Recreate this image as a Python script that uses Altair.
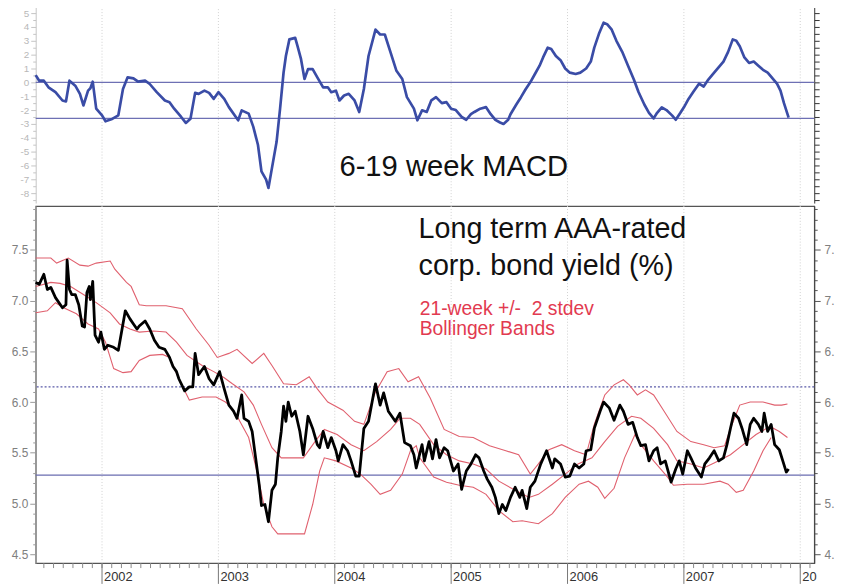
import altair as alt
import pandas as pd

# ---------------- data ----------------
yield_year = [2001.43, 2001.46, 2001.50, 2001.53, 2001.56, 2001.60, 2001.66, 2001.69, 2001.70, 2001.72,
              2001.74, 2001.77, 2001.80, 2001.83, 2001.85, 2001.87, 2001.89, 2001.90, 2001.92, 2001.94,
              2001.97, 2001.99, 2002.02, 2002.05, 2002.10, 2002.14, 2002.20, 2002.24, 2002.27, 2002.30,
              2002.32, 2002.37, 2002.41, 2002.45, 2002.49, 2002.54, 2002.58, 2002.61, 2002.64, 2002.66,
              2002.71, 2002.75, 2002.78, 2002.80, 2002.83, 2002.88, 2002.92, 2002.96, 2003.01, 2003.05,
              2003.09, 2003.13, 2003.16, 2003.20, 2003.22, 2003.26, 2003.29, 2003.32, 2003.35, 2003.37,
              2003.40, 2003.43, 2003.46, 2003.49, 2003.51, 2003.54, 2003.56, 2003.58, 2003.60, 2003.63,
              2003.66, 2003.70, 2003.73, 2003.77, 2003.81, 2003.85, 2003.87, 2003.90, 2003.94, 2003.97,
              2004.01, 2004.03, 2004.07, 2004.11, 2004.14, 2004.18, 2004.21, 2004.25, 2004.29, 2004.35,
              2004.39, 2004.42, 2004.46, 2004.52, 2004.56, 2004.60, 2004.65, 2004.68, 2004.70, 2004.75,
              2004.77, 2004.81, 2004.84, 2004.87, 2004.90, 2004.94, 2004.97, 2005.02, 2005.06, 2005.09,
              2005.13, 2005.17, 2005.21, 2005.24, 2005.28, 2005.31, 2005.35, 2005.38, 2005.41, 2005.44,
              2005.47, 2005.51, 2005.55, 2005.59, 2005.61, 2005.65, 2005.68, 2005.72, 2005.77, 2005.82,
              2005.87, 2005.89, 2005.94, 2005.98, 2006.02, 2006.06, 2006.10, 2006.14, 2006.16, 2006.20,
              2006.23, 2006.28, 2006.31, 2006.36, 2006.40, 2006.45, 2006.48, 2006.52, 2006.56, 2006.60,
              2006.63, 2006.67, 2006.70, 2006.74, 2006.77, 2006.80, 2006.84, 2006.89, 2006.93, 2006.96,
              2006.99, 2007.03, 2007.06, 2007.10, 2007.15, 2007.18, 2007.22, 2007.26, 2007.30, 2007.34,
              2007.37, 2007.40, 2007.43, 2007.47, 2007.50, 2007.54, 2007.57, 2007.60, 2007.64, 2007.67,
              2007.69, 2007.72, 2007.75, 2007.78, 2007.82, 2007.85, 2007.88, 2007.90]
yield_val = [7.18, 7.16, 7.26, 7.11, 7.13, 7.03, 6.93, 6.96, 7.40, 7.11,
             7.06, 7.06, 6.96, 6.75, 6.74, 7.08, 7.14, 7.01, 7.19, 6.66,
             6.59, 6.69, 6.52, 6.56, 6.54, 6.51, 6.90, 6.82, 6.77, 6.72,
             6.75, 6.80, 6.72, 6.61, 6.54, 6.52, 6.44, 6.35, 6.30, 6.23,
             6.11, 6.15, 6.15, 6.48, 6.27, 6.35, 6.23, 6.17, 6.30, 6.13,
             5.97, 5.91, 5.84, 6.07, 5.84, 5.81, 5.71, 5.45, 5.19, 4.98,
             4.99, 4.82, 5.13, 5.19, 5.45, 5.71, 5.96, 5.81, 6.00, 5.86,
             5.91, 5.71, 5.48, 5.86, 5.74, 5.58, 5.55, 5.71, 5.55, 5.65,
             5.52, 5.42, 5.58, 5.52, 5.42, 5.27, 5.27, 5.74, 5.81, 6.18,
             5.97, 6.09, 5.91, 5.81, 5.89, 5.60, 5.57, 5.48, 5.35, 5.58,
             5.42, 5.61, 5.44, 5.63, 5.45, 5.55, 5.52, 5.32, 5.39, 5.14,
             5.32, 5.39, 5.48, 5.45, 5.32, 5.24, 5.16, 5.06, 4.90, 4.99,
             4.93, 5.06, 5.16, 5.06, 5.13, 4.95, 5.16, 5.22, 5.39, 5.52,
             5.35, 5.44, 5.39, 5.26, 5.27, 5.39, 5.35, 5.39, 5.52, 5.53,
             5.74, 5.91, 6.00, 5.94, 5.82, 5.97, 5.91, 5.78, 5.80, 5.65,
             5.57, 5.58, 5.42, 5.52, 5.55, 5.39, 5.42, 5.21, 5.34, 5.42,
             5.29, 5.52, 5.45, 5.35, 5.26, 5.39, 5.45, 5.52, 5.42, 5.45,
             5.58, 5.74, 5.89, 5.84, 5.74, 5.58, 5.78, 5.84, 5.78, 5.71,
             5.89, 5.71, 5.78, 5.58, 5.53, 5.42, 5.31, 5.34]

upper_year = [2001.43, 2001.56, 2001.61, 2001.71, 2001.81, 2001.88, 2001.95, 2002.07, 2002.11, 2002.21,
              2002.25, 2002.32, 2002.38, 2002.55, 2002.69, 2002.81, 2002.92, 2002.99, 2003.09, 2003.16,
              2003.29, 2003.39, 2003.46, 2003.56, 2003.67, 2003.78, 2003.85, 2003.94, 2004.07, 2004.17,
              2004.25, 2004.35, 2004.45, 2004.55, 2004.63, 2004.72, 2004.82, 2004.94, 2005.07, 2005.19,
              2005.33, 2005.47, 2005.58, 2005.68, 2005.75, 2005.84, 2005.95, 2006.06, 2006.16, 2006.23,
              2006.32, 2006.40, 2006.48, 2006.53, 2006.60, 2006.67, 2006.74, 2006.83, 2006.94, 2007.06,
              2007.17, 2007.26, 2007.35, 2007.40, 2007.48, 2007.57, 2007.68, 2007.78, 2007.84, 2007.89]
upper_val = [7.42, 7.42, 7.37, 7.42, 7.35, 7.34, 7.37, 7.39, 7.31, 7.18,
             7.14, 6.96, 6.95, 6.95, 6.92, 6.72, 6.56, 6.44, 6.48, 6.52,
             6.38, 6.48, 6.36, 6.18, 6.17, 6.25, 6.13, 6.00, 5.92, 5.81,
             5.78, 6.10, 6.30, 6.33, 6.20, 6.25, 6.04, 5.73, 5.66, 5.65,
             5.57, 5.52, 5.48, 5.29, 5.39, 5.53, 5.58, 5.52, 5.48, 5.78,
             6.07, 6.17, 6.22, 6.17, 6.07, 6.12, 6.07, 5.91, 5.71, 5.61,
             5.58, 5.55, 5.57, 5.74, 5.97, 6.00, 6.00, 5.97, 5.97, 5.98]

mid_year = [2001.43, 2001.56, 2001.64, 2001.73, 2001.84, 2001.95, 2002.07, 2002.15, 2002.24, 2002.32,
            2002.44, 2002.55, 2002.64, 2002.73, 2002.86, 2002.96, 2003.05, 2003.12, 2003.22, 2003.30,
            2003.37, 2003.46, 2003.54, 2003.73, 2003.83, 2003.91, 2004.02, 2004.14, 2004.25, 2004.36,
            2004.48, 2004.56, 2004.65, 2004.73, 2004.85, 2004.96, 2005.07, 2005.19, 2005.30, 2005.41,
            2005.55, 2005.67, 2005.75, 2005.87, 2005.98, 2006.09, 2006.21, 2006.32, 2006.43, 2006.55,
            2006.63, 2006.74, 2006.86, 2006.94, 2007.06, 2007.17, 2007.26, 2007.40, 2007.51, 2007.62,
            2007.74, 2007.82, 2007.89]
mid_val = [7.14, 7.18, 7.17, 7.14, 7.06, 6.98, 6.88, 6.77, 6.72, 6.69,
           6.70, 6.69, 6.59, 6.46, 6.36, 6.30, 6.24, 6.18, 6.10, 5.97,
           5.78, 5.55, 5.45, 5.45, 5.61, 5.73, 5.68, 5.58, 5.52, 5.61,
           5.73, 5.84, 5.84, 5.78, 5.58, 5.48, 5.42, 5.39, 5.34, 5.22,
           5.13, 5.06, 5.09, 5.19, 5.29, 5.39, 5.45, 5.61, 5.76, 5.86,
           5.84, 5.74, 5.58, 5.42, 5.39, 5.35, 5.40, 5.48, 5.58, 5.68,
           5.76, 5.71, 5.65]

low_year = [2001.43, 2001.53, 2001.60, 2001.67, 2001.78, 2001.88, 2001.97, 2002.03, 2002.10, 2002.18,
            2002.25, 2002.32, 2002.41, 2002.52, 2002.58, 2002.66, 2002.75, 2002.86, 2002.98, 2003.06,
            2003.09, 2003.17, 2003.26, 2003.33, 2003.39, 2003.46, 2003.51, 2003.74, 2003.81, 2003.87,
            2003.91, 2004.01, 2004.14, 2004.22, 2004.31, 2004.39, 2004.48, 2004.58, 2004.65, 2004.70,
            2004.73, 2004.85, 2004.96, 2005.07, 2005.19, 2005.30, 2005.41, 2005.53, 2005.61, 2005.75,
            2005.87, 2005.98, 2006.10, 2006.18, 2006.26, 2006.32, 2006.40, 2006.49, 2006.58, 2006.63,
            2006.74, 2006.86, 2006.91, 2007.03, 2007.17, 2007.31, 2007.38, 2007.45, 2007.51, 2007.60,
            2007.68, 2007.75]
low_val = [6.88, 6.90, 6.98, 6.93, 6.87, 6.77, 6.72, 6.59, 6.33, 6.29,
           6.30, 6.41, 6.46, 6.47, 6.44, 6.23, 6.02, 6.05, 6.05, 6.00,
           5.97, 5.84, 5.65, 5.32, 4.99, 4.77, 4.70, 4.70, 4.99, 5.32,
           5.45, 5.42, 5.35, 5.29, 5.19, 5.09, 5.13, 5.29, 5.52, 5.57,
           5.45, 5.26, 5.21, 5.18, 5.16, 5.09, 4.93, 4.82, 4.83, 4.80,
           4.90, 5.06, 5.19, 5.22, 5.16, 5.05, 5.15, 5.45, 5.68, 5.58,
           5.42, 5.26, 5.18, 5.19, 5.19, 5.22, 5.19, 5.11, 5.13, 5.32,
           5.52, 5.65]

macd_year = [2001.43, 2001.46, 2001.50, 2001.54, 2001.60, 2001.66, 2001.69, 2001.72, 2001.77, 2001.81,
             2001.84, 2001.88, 2001.90, 2001.92, 2001.95, 2002.00, 2002.03, 2002.08, 2002.14, 2002.18,
             2002.22, 2002.27, 2002.31, 2002.37, 2002.41, 2002.47, 2002.54, 2002.58, 2002.62, 2002.68,
             2002.72, 2002.76, 2002.80, 2002.83, 2002.88, 2002.92, 2002.96, 2003.00, 2003.05, 2003.09,
             2003.15, 2003.17, 2003.20, 2003.26, 2003.30, 2003.34, 2003.37, 2003.41, 2003.43, 2003.46,
             2003.50, 2003.53, 2003.56, 2003.58, 2003.61, 2003.66, 2003.68, 2003.71, 2003.74, 2003.77,
             2003.81, 2003.85, 2003.90, 2003.94, 2003.97, 2004.01, 2004.04, 2004.08, 2004.12, 2004.17,
             2004.21, 2004.25, 2004.29, 2004.35, 2004.39, 2004.43, 2004.48, 2004.53, 2004.58, 2004.62,
             2004.68, 2004.71, 2004.75, 2004.79, 2004.83, 2004.87, 2004.92, 2004.96, 2005.00, 2005.04,
             2005.09, 2005.13, 2005.17, 2005.20, 2005.25, 2005.30, 2005.34, 2005.38, 2005.42, 2005.45,
             2005.49, 2005.51, 2005.56, 2005.60, 2005.64, 2005.68, 2005.72, 2005.76, 2005.79, 2005.83,
             2005.86, 2005.90, 2005.94, 2005.98, 2006.02, 2006.07, 2006.11, 2006.16, 2006.20, 2006.23,
             2006.27, 2006.31, 2006.34, 2006.38, 2006.42, 2006.47, 2006.52, 2006.57, 2006.61, 2006.66,
             2006.70, 2006.74, 2006.77, 2006.81, 2006.85, 2006.90, 2006.93, 2006.97, 2007.00, 2007.04,
             2007.08, 2007.13, 2007.17, 2007.21, 2007.26, 2007.30, 2007.34, 2007.38, 2007.42, 2007.45,
             2007.48, 2007.52, 2007.56, 2007.60, 2007.64, 2007.68, 2007.72, 2007.76, 2007.80, 2007.83,
             2007.86, 2007.90]
macd_val = [0.52, 0.12, 0.12, -0.36, -0.71, -1.31, -1.38, 0.12, -0.24, -0.83,
            -1.67, -0.60, -0.43, 0.05, -1.90, -2.38, -2.81, -2.67, -2.38, -0.48,
            0.36, 0.29, 0.05, 0.12, -0.12, -0.71, -1.31, -1.43, -1.90, -2.50,
            -2.93, -2.62, -0.76, -0.83, -0.60, -0.76, -1.19, -0.71, -1.19, -1.79,
            -2.50, -2.74, -2.02, -2.26, -3.21, -4.52, -6.43, -7.02, -7.62, -6.19,
            -4.29, -1.90, 0.71, 1.90, 3.10, 3.21, 2.62, 1.67, 0.24, 0.95,
            0.95, 0.36, -0.36, -0.36, -0.71, -0.60, -1.31, -0.95, -0.83, -1.31,
            -2.14, -0.48, 1.90, 3.81, 3.45, 3.45, 2.14, 0.83, 0.24, -1.07,
            -1.90, -2.74, -2.02, -2.14, -1.30, -1.07, -1.50, -1.43, -1.90, -2.00,
            -2.50, -2.70, -2.30, -2.14, -1.90, -1.79, -2.30, -2.71, -2.90, -3.00,
            -2.70, -2.30, -1.60, -1.07, -0.50, 0.00, 0.60, 1.20, 1.80, 2.50,
            2.40, 1.90, 1.60, 1.00, 0.70, 0.60, 0.70, 1.00, 1.50, 2.50,
            3.50, 4.30, 4.20, 3.80, 3.00, 2.20, 1.20, 0.20, -0.70, -1.60,
            -2.20, -2.60, -2.20, -1.80, -2.00, -2.40, -2.70, -2.20, -1.80, -1.20,
            -0.70, -0.10, -0.30, 0.20, 0.70, 1.10, 1.50, 2.20, 3.10, 3.00,
            2.60, 1.80, 1.40, 1.50, 1.20, 0.90, 0.70, 0.30, -0.10, -0.60,
            -1.50, -2.55]

macd_levels = [0.0, -2.6]
yield_dotted_level = [6.15]
yield_solid_level = [5.28]
grid_years = [2002, 2003, 2004, 2005, 2006, 2007, 2008]
year_labels = ["2002", "2003", "2004", "2005", "2006", "2007", "20"]

macd_title = ["6-19 week MACD"]
yield_title = ["Long term AAA-rated", "corp. bond yield (%)"]
band_note = ["21-week +/-\u00a0 2 stdev", "Bollinger Bands"]

# ---------------- layout constants ----------------
FONT = "Liberation Sans"
W = 787
H_TOP = 202
H_BOT = 361
X_DOMAIN = [2001.43, 2008.12]
MACD_DOMAIN = [-8.71, 5.71]
YIELD_DOMAIN = [4.412, 7.933]

xs = alt.Scale(domain=X_DOMAIN, nice=False, zero=False)
ys_top = alt.Scale(domain=MACD_DOMAIN, nice=False, zero=False)
ys_bot = alt.Scale(domain=YIELD_DOMAIN, nice=False, zero=False)

def frame(xv, yv):
    return pd.DataFrame({"year": xv, "v": yv})

yield_df = frame(yield_year, yield_val)
upper_df = frame(upper_year, upper_val)
mid_df = frame(mid_year, mid_val)
low_df = frame(low_year, low_val)
macd_df = frame(macd_year, macd_val)
grid_df = pd.DataFrame({"year": grid_years, "label": year_labels})

is_int = "abs(datum.value - round(datum.value)) < 0.001"
is_half = "abs(datum.value*2 - round(datum.value*2)) < 0.001"

top_vals = [v / 2 for v in range(-17, 12)]
bot_vals = [round(4.5 + 0.1 * i, 2) for i in range(0, 35)]
month_df = pd.DataFrame({"year": [round(2001 + m / 12, 4) for m in range(6, 12 * 7 + 2)]})

# ---------------- top panel (MACD) ----------------
top_left_axis = alt.Axis(orient="left", values=top_vals, title=None, grid=False,
                         labelExpr=f"{is_int} ? '' + datum.value : ''",
                         tickSize={"condition": {"test": is_int, "value": 5}, "value": 3},
                         tickColor="#c4c4c4", domainColor="#c4c4c4", labelColor="#b8b8b8",
                         labelFont=FONT, labelFontSize=10, labelPadding=2,
                         minExtent=27, maxExtent=27)
top_right_axis = alt.Axis(orient="right", values=top_vals, title=None, grid=False, labels=False,
                          tickSize=5, tickColor="#333333", domainColor="#333333")

t_grid = alt.Chart(grid_df).mark_rule(color="#d0d0d0", strokeDash=[1, 2], strokeWidth=1).encode(
    x=alt.X("year:Q", scale=xs, axis=None))
t_levels = alt.Chart(pd.DataFrame({"v": macd_levels})).mark_rule(color="#6e70b4", strokeWidth=1.3).encode(
    y=alt.Y("v:Q", scale=ys_top, axis=None))
t_line = alt.Chart(macd_df).mark_line(color="#3a4ca6", strokeWidth=2.7, strokeJoin="round").encode(
    x=alt.X("year:Q", scale=xs, axis=None),
    y=alt.Y("v:Q", scale=ys_top, axis=top_left_axis))
t_right = alt.Chart(macd_df).mark_point(opacity=0).encode(
    x=alt.X("year:Q", scale=xs, axis=None),
    y=alt.Y("v:Q", scale=ys_top, axis=top_right_axis))
t_text = alt.Chart(pd.DataFrame({"t": macd_title, "year": [2004.04], "v": [-6.79]})).mark_text(
    align="left", baseline="alphabetic", font=FONT, fontSize=29.5, color="#111111").encode(
    x=alt.X("year:Q", scale=xs, axis=None), y=alt.Y("v:Q", scale=ys_top, axis=None), text="t:N")

top = alt.layer(t_grid, t_levels, t_line, t_right, t_text).resolve_axis(y="independent").properties(
    width=W, height=H_TOP, view=alt.ViewBackground(strokeOpacity=0))

# ---------------- bottom panel (yield) ----------------
bot_left_axis = alt.Axis(orient="left", values=bot_vals, title=None, grid=False,
                         labelExpr=f"{is_half} ? format(datum.value, '.1f') : ''",
                         tickSize={"condition": {"test": is_half, "value": 6}, "value": 3},
                         tickColor="#999999", domainColor="#999999", labelColor="#808080",
                         labelFont=FONT, labelFontSize=12, labelPadding=2,
                         minExtent=27, maxExtent=27)
bot_right_axis = alt.Axis(orient="right", values=bot_vals, title=None, grid=False,
                          labelExpr=f"{is_half} ? substring(format(datum.value, '.1f'), 0, 2) : ''",
                          tickSize={"condition": {"test": is_half, "value": 6}, "value": 3},
                          tickColor="#555555", domainColor="#444444", labelColor="#808080",
                          labelFont=FONT, labelFontSize=12, labelPadding=4)

b_grid = alt.Chart(grid_df).mark_rule(color="#d0d0d0", strokeDash=[1, 2], strokeWidth=1).encode(
    x=alt.X("year:Q", scale=xs, axis=None))
# bottom time axis: month ticks, long year ticks and year labels
b_monthtick = alt.Chart(month_df).mark_rule(color="#8a8a8a", strokeWidth=1).encode(
    x=alt.X("year:Q", scale=xs, axis=None), y=alt.value(H_BOT), y2=alt.value(H_BOT + 5))
b_yeartick = alt.Chart(grid_df).mark_rule(color="#777777", strokeWidth=1).encode(
    x=alt.X("year:Q", scale=xs, axis=None), y=alt.value(H_BOT), y2=alt.value(H_BOT + 21))
b_yearlabel = alt.Chart(grid_df).mark_text(
    align="left", baseline="middle", dx=2, font=FONT, fontSize=13, color="#333333").encode(
    x=alt.X("year:Q", scale=xs, axis=None), y=alt.value(H_BOT + 14), text="label:N")

b_dotted = alt.Chart(pd.DataFrame({"v": yield_dotted_level})).mark_rule(
    color="#5a5aa8", strokeDash=[2, 2], strokeWidth=1.2).encode(y=alt.Y("v:Q", scale=ys_bot, axis=None))
b_solid = alt.Chart(pd.DataFrame({"v": yield_solid_level})).mark_rule(
    color="#6a6cb0", strokeWidth=1.3).encode(y=alt.Y("v:Q", scale=ys_bot, axis=None))

def band(df):
    return alt.Chart(df).mark_line(color="#e0606e", strokeWidth=1.1).encode(
        x=alt.X("year:Q", scale=xs, axis=None), y=alt.Y("v:Q", scale=ys_bot, axis=None))

b_line = alt.Chart(yield_df).mark_line(color="#000000", strokeWidth=2.8, strokeJoin="round").encode(
    x=alt.X("year:Q", scale=xs, axis=None),
    y=alt.Y("v:Q", scale=ys_bot, axis=bot_left_axis))
b_right = alt.Chart(yield_df).mark_point(opacity=0).encode(
    x=alt.X("year:Q", scale=xs, axis=None),
    y=alt.Y("v:Q", scale=ys_bot, axis=bot_right_axis))
b_title = alt.Chart(pd.DataFrame({"t": yield_title, "year": [2004.72, 2004.72], "v": [7.615, 7.257]})).mark_text(
    align="left", baseline="alphabetic", font=FONT, fontSize=29, color="#111111").encode(
    x=alt.X("year:Q", scale=xs, axis=None), y=alt.Y("v:Q", scale=ys_bot, axis=None), text="t:N")
b_note = alt.Chart(pd.DataFrame({"t": band_note, "year": [2004.73, 2004.73], "v": [6.854, 6.659]})).mark_text(
    align="left", baseline="alphabetic", font=FONT, fontSize=19.5, color="#e23a50").encode(
    x=alt.X("year:Q", scale=xs, axis=None), y=alt.Y("v:Q", scale=ys_bot, axis=None), text="t:N")

bottom = alt.layer(b_grid, b_monthtick, b_yeartick, b_yearlabel, b_dotted, b_solid,
                   band(upper_df), band(mid_df), band(low_df),
                   b_line, b_right, b_title, b_note).resolve_axis(y="independent").properties(
    width=W, height=H_BOT, view=alt.ViewBackground(stroke="#555555", strokeWidth=1.2))

chart = alt.vconcat(top, bottom, spacing=0).properties(
    padding={"left": 0, "top": -9, "right": 0, "bottom": 0},
    background="white")

chart.save("out.html", embed_options={"renderer": "svg", "actions": False})
